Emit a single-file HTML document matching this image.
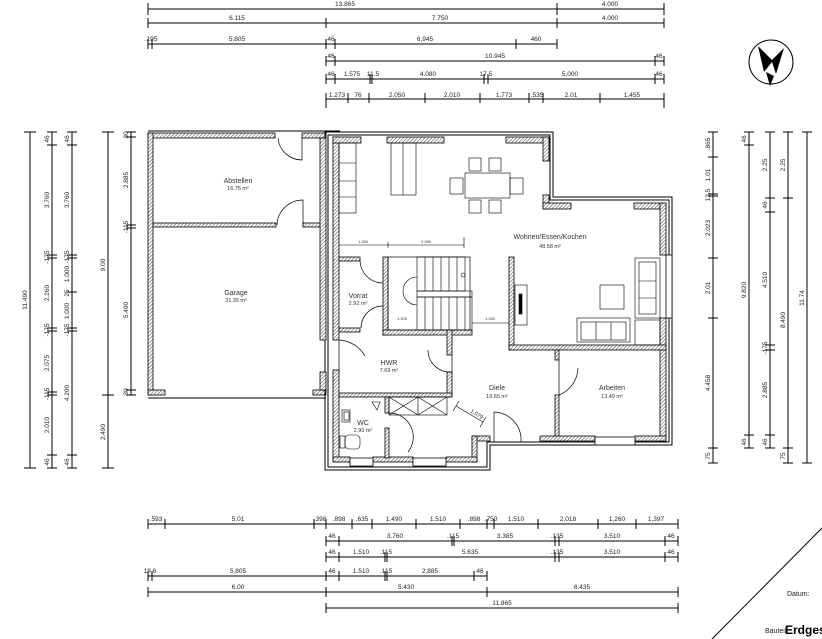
<!DOCTYPE html>
<html><head><meta charset="utf-8"><style>
html,body{margin:0;padding:0;background:#fff;}
svg{display:block;font-family:"Liberation Sans",sans-serif;}
text{font-size:6.5px;fill:#222;}
.d line,.d path{stroke:#000;stroke-width:1;fill:none}
.w{fill:url(#h);stroke:#000;stroke-width:.8}
.o{fill:none;stroke:#000;stroke-width:1}
.f{fill:#fff;stroke:#000;stroke-width:.8}
.a{fill:none;stroke:#000;stroke-width:.7}
.lbl{font-size:7px;fill:#333;text-anchor:middle}
.sm{font-size:5.5px;fill:#333;text-anchor:middle}
</style></head><body>
<svg width="822" height="639" viewBox="0 0 822 639" xmlns="http://www.w3.org/2000/svg">
<defs><pattern id="h" width="2.5" height="2.5" patternUnits="userSpaceOnUse" patternTransform="rotate(45)"><rect width="2.5" height="2.5" fill="#fff"/><line x1="0" y1="0" x2="0" y2="2.5" stroke="#444" stroke-width="1"/></pattern></defs>

<g class="d">
<!-- top dims -->
<line x1="148" y1="9" x2="664" y2="9"/><path d="M148 3v12M557 3v12M664 3v12"/>
<line x1="148" y1="23" x2="664" y2="23"/><path d="M148 18v10M326 18v10M557 18v10M664 18v10"/>
<line x1="148" y1="44" x2="557" y2="44"/><path d="M148 39v10M152 39v10M326 39v10M335 39v10M516 39v10M557 39v10"/>
<line x1="326" y1="61" x2="664" y2="61"/><path d="M326 56v10M335 56v10M655 56v10M664 56v10"/>
<line x1="326" y1="79" x2="664" y2="79"/><path d="M326 74v10M335 74v10M370 74v10M372 74v10M484 74v10M488 74v10M655 74v10M664 74v10"/>
<line x1="326" y1="99" x2="664" y2="99"/><path d="M326 93v15M348 93v10M369 93v10M425 93v10M480 93v10M529 93v10M543 93v10M600 93v10M664 93v15"/>
<!-- bottom dims -->
<line x1="148" y1="524" x2="678" y2="524"/><path d="M148 519v10M165 519v10M314 519v10M326 519v10M352 519v10M372 519v10M416 519v10M460 519v10M487 519v10M494 519v10M538 519v10M598 519v10M636 519v10M678 519v10"/>
<line x1="326" y1="541" x2="678" y2="541"/><path d="M326 536v10M339 536v10M452 536v10M454 536v10M555 536v10M559 536v10M665 536v10M678 536v10"/>
<line x1="326" y1="557" x2="678" y2="557"/><path d="M326 552v10M339 552v10M385 552v10M387 552v10M555 552v10M559 552v10M665 552v10M678 552v10"/>
<line x1="148" y1="576" x2="487" y2="576"/><path d="M148 571v10M152 571v10M326 571v10M339 571v10M385 571v10M387 571v10M474 571v10M487 571v10"/>
<line x1="148" y1="592" x2="678" y2="592"/><path d="M148 587v10M326 587v10M487 587v10M678 587v10"/>
<line x1="326" y1="608" x2="678" y2="608"/><path d="M326 603v10M678 603v10"/>
<!-- left dims -->
<line x1="30" y1="132" x2="30" y2="468"/><path d="M24 132h12M24 468h12"/>
<line x1="52" y1="132" x2="52" y2="468"/><path d="M47 132h10M47 145h10M47 255h10M47 258h10M47 328h10M47 331h10M47 392h10M47 395h10M47 455h10M47 468h10"/>
<line x1="72" y1="132" x2="72" y2="468"/><path d="M67 132h10M67 145h10M67 255h10M67 258h10M67 292h10M67 328h10M67 331h10M67 455h10M67 468h10"/>
<line x1="108" y1="132" x2="108" y2="468"/><path d="M102 132h12M102 395h12M102 468h12"/>
<line x1="131" y1="132" x2="131" y2="395"/><path d="M126 132h10M126 137h10M126 225h10M126 228h10M126 390h10M126 395h10"/>
<!-- right dims -->
<line x1="713" y1="132" x2="713" y2="463"/><path d="M708 132h10M708 157h10M708 194h10M708 196h10M708 258h10M708 318h10M708 448h10M708 463h10"/>
<line x1="749" y1="132" x2="749" y2="448"/><path d="M744 132h10M744 145h10M744 435h10M744 448h10"/>
<line x1="770" y1="132" x2="770" y2="448"/><path d="M765 132h10M765 198h10M765 212h10M765 345h10M765 350h10M765 435h10M765 448h10"/>
<line x1="788" y1="132" x2="788" y2="463"/><path d="M783 132h10M783 198h10M783 448h10M783 463h10"/>
<line x1="807" y1="132" x2="807" y2="463"/><path d="M802 132h10M802 463h10"/>
<!-- title block diagonal -->
<line x1="712" y1="639" x2="822" y2="528"/>
</g>

<g text-anchor="middle">
<text x="345" y="6">13.865</text><text x="610" y="6">4.000</text>
<text x="237" y="20">6.115</text><text x="440" y="20">7.750</text><text x="610" y="20">4.000</text>
<text x="151" y="41">.195</text><text x="237" y="41">5,805</text><text x="331" y="41">46</text><text x="425" y="41">6,945</text><text x="536" y="41">460</text>
<text x="331" y="58">46</text><text x="495" y="58">10.945</text><text x="659" y="58">46</text>
<text x="331" y="76">46</text><text x="352" y="76">1.575</text><text x="373" y="76">11.5</text><text x="428" y="76">4.080</text><text x="486" y="76">17.5</text><text x="570" y="76">5,000</text><text x="659" y="76">46</text>
<text x="337" y="97">1.273</text><text x="358" y="97">76</text><text x="397" y="97">2.050</text><text x="452" y="97">2.010</text><text x="504" y="97">1.773</text><text x="537" y="97">.535</text><text x="571" y="97">2.01</text><text x="632" y="97">1.455</text>
<text x="156" y="521">.593</text><text x="238" y="521">5,01</text><text x="320" y="521">.398</text><text x="339" y="521">.898</text><text x="362" y="521">.635</text><text x="394" y="521">1.490</text><text x="438" y="521">1.510</text><text x="474" y="521">.898</text><text x="491" y="521">.750</text><text x="516" y="521">1.510</text><text x="568" y="521">2,018</text><text x="617" y="521">1,260</text><text x="656" y="521">1,397</text>
<text x="332" y="538">46</text><text x="395" y="538">3.760</text><text x="453" y="538">.115</text><text x="505" y="538">3.385</text><text x="557" y="538">.135</text><text x="612" y="538">3.510</text><text x="671" y="538">46</text>
<text x="332" y="554">46</text><text x="361" y="554">1.510</text><text x="386" y="554">.115</text><text x="470" y="554">5.635</text><text x="557" y="554">.135</text><text x="612" y="554">3.510</text><text x="671" y="554">46</text>
<text x="150" y="573">18.6</text><text x="238" y="573">5,805</text><text x="332" y="573">46</text><text x="361" y="573">1.510</text><text x="386" y="573">.115</text><text x="430" y="573">2,885</text><text x="480" y="573">46</text>
<text x="238" y="589">6,00</text><text x="406" y="589">5.430</text><text x="582" y="589">6.435</text>
<text x="502" y="605">11.865</text>
</g>

<g text-anchor="middle">
<text transform="translate(27,300) rotate(-90)">11.490</text>
<text transform="translate(49,139) rotate(-90)">46</text><text transform="translate(49,200) rotate(-90)">3.760</text><text transform="translate(49,257) rotate(-90)">-175</text><text transform="translate(49,293) rotate(-90)">2.260</text><text transform="translate(49,330) rotate(-90)">-175</text><text transform="translate(49,363) rotate(-90)">2.075</text><text transform="translate(49,394) rotate(-90)">-115</text><text transform="translate(49,425) rotate(-90)">2.010</text><text transform="translate(49,462) rotate(-90)">46</text>
<text transform="translate(69,139) rotate(-90)">46</text><text transform="translate(69,200) rotate(-90)">3.760</text><text transform="translate(69,257) rotate(-90)">-175</text><text transform="translate(69,274) rotate(-90)">1.000</text><text transform="translate(69,293) rotate(-90)">25</text><text transform="translate(69,311) rotate(-90)">1.000</text><text transform="translate(69,330) rotate(-90)">-175</text><text transform="translate(69,393) rotate(-90)">4.200</text><text transform="translate(69,462) rotate(-90)">46</text>
<text transform="translate(105,265) rotate(-90)">9.00</text><text transform="translate(105,432) rotate(-90)">2.490</text>
<text transform="translate(128,135) rotate(-90)">30</text><text transform="translate(128,180) rotate(-90)">2.885</text><text transform="translate(128,227) rotate(-90)">-115</text><text transform="translate(128,310) rotate(-90)">5.400</text><text transform="translate(128,392) rotate(-90)">30</text>
<text transform="translate(710,144) rotate(-90)">.865</text><text transform="translate(710,175) rotate(-90)">1.01</text><text transform="translate(710,195) rotate(-90)">12.5</text><text transform="translate(710,228) rotate(-90)">2.023</text><text transform="translate(710,288) rotate(-90)">2.01</text><text transform="translate(710,383) rotate(-90)">4.458</text><text transform="translate(710,456) rotate(-90)">75</text>
<text transform="translate(746,139) rotate(-90)">46</text><text transform="translate(746,290) rotate(-90)">9.820</text><text transform="translate(746,442) rotate(-90)">46</text>
<text transform="translate(767,165) rotate(-90)">2.25</text><text transform="translate(767,205) rotate(-90)">46</text><text transform="translate(767,280) rotate(-90)">4.510</text><text transform="translate(767,348) rotate(-90)">-175</text><text transform="translate(767,390) rotate(-90)">2.885</text><text transform="translate(767,442) rotate(-90)">46</text>
<text transform="translate(785,165) rotate(-90)">2.25</text><text transform="translate(785,320) rotate(-90)">8.490</text><text transform="translate(785,456) rotate(-90)">75</text>
<text transform="translate(804,298) rotate(-90)">11.74</text>
</g>

<!-- north arrow -->
<circle cx="771" cy="62" r="22" fill="none" stroke="#000" stroke-width="1"/>
<path d="M758 46 L772 60 L784 48 L776 74 L772 62 L764 72 Z" fill="#000"/>
<path d="M766 72 L774 76 L770 86 Z" fill="#000"/>

<text x="787" y="596" style="font-size:7px">Datum:</text>
<text x="765" y="633" style="font-size:7px">Bauteil:</text>
<text x="785" y="634" style="font-size:12px;font-weight:bold;fill:#000">Erdges</text>

<!-- garage -->
<rect class="w" x="148" y="133" width="127" height="5"/>
<rect class="w" x="302" y="133" width="24" height="5"/>
<rect class="w" x="148" y="133" width="5" height="262"/>
<rect class="w" x="153" y="223" width="123" height="4"/>
<rect class="w" x="303" y="223" width="23" height="4"/>
<rect class="w" x="148" y="390" width="17" height="5"/>
<rect class="w" x="313" y="390" width="13" height="5"/>
<line x1="148" y1="131" x2="340" y2="131" stroke="#000"/>
<line x1="148" y1="398" x2="326" y2="398" stroke="#000"/>
<path class="a" d="M302 138 V160 A24 24 0 0 1 278 138"/>
<path class="a" d="M303 227 V200 A26 26 0 0 0 277 225"/>

<!-- house outer double lines -->
<path class="o" d="M325 132 H553 V197 H672 V445 H490 V470 H325 Z"/>
<path class="o" d="M328 135 H550 V200 H669 V442 H487 V467 H328 Z"/>
<!-- exterior walls -->
<rect class="w" x="320" y="138" width="6" height="202"/>
<rect class="w" x="320" y="372" width="6" height="18"/>
<rect class="w" x="333" y="137" width="6" height="203"/>
<rect class="w" x="333" y="370" width="6" height="92"/>
<rect class="w" x="333" y="137" width="28" height="6"/>
<rect class="w" x="387" y="137" width="57" height="6"/>
<rect class="w" x="506" y="137" width="43" height="6"/>
<rect class="w" x="543" y="137" width="6" height="24"/>
<rect class="w" x="543" y="195" width="6" height="14"/>
<rect class="w" x="543" y="203" width="28" height="6"/>
<rect class="w" x="634" y="203" width="32" height="6"/>
<rect class="w" x="660" y="203" width="6" height="52"/>
<rect class="w" x="660" y="318" width="6" height="123"/>
<rect class="w" x="540" y="436" width="55" height="5"/>
<rect class="w" x="635" y="436" width="31" height="5"/>
<rect class="w" x="472" y="436" width="18" height="5"/>
<rect class="w" x="472" y="436" width="5" height="26"/>
<rect class="w" x="333" y="457" width="17" height="5"/>
<rect class="w" x="373" y="457" width="40" height="5"/>
<rect class="w" x="446" y="457" width="31" height="5"/>
<!-- windows -->
<rect class="f" x="666" y="255" width="6" height="63"/>
<rect class="f" x="595" y="437" width="40" height="8"/>
<rect class="f" x="350" y="458" width="23" height="8"/>
<rect class="f" x="413" y="458" width="33" height="8"/>

<!-- interior walls -->
<rect class="w" x="339" y="257" width="21" height="4"/>
<rect class="w" x="339" y="328" width="21" height="4"/>
<rect class="w" x="383" y="257" width="5" height="78"/>
<rect class="w" x="383" y="330" width="89" height="5"/>
<rect class="w" x="447" y="330" width="5" height="25"/>
<rect class="w" x="447" y="372" width="5" height="25"/>
<rect class="w" x="339" y="393" width="113" height="4"/>
<rect class="w" x="385" y="397" width="4" height="16"/>
<rect class="w" x="385" y="428" width="4" height="30"/>
<rect class="w" x="509" y="257" width="5" height="93"/>
<rect class="w" x="509" y="345" width="157" height="5"/>
<rect class="w" x="555" y="350" width="4" height="10"/>
<rect class="w" x="555" y="395" width="4" height="41"/>
<!-- interior lines -->
<line x1="339" y1="245" x2="464" y2="245" stroke="#000" stroke-width=".6"/>
<line x1="388" y1="242" x2="388" y2="248" stroke="#000" stroke-width=".6"/><line x1="464" y1="237" x2="464" y2="248" stroke="#000" stroke-width=".6"/>
<text x="363" y="243" class="sm" style="font-size:4px">1.280</text><text x="426" y="243" class="sm" style="font-size:4px">2.280</text>
<line x1="472" y1="323" x2="509" y2="323" stroke="#000" stroke-width=".6"/>
<text x="402" y="320" class="sm" style="font-size:4px">1.200</text><text x="490" y="320" class="sm" style="font-size:4px">1.280</text>
<rect x="388" y="257" width="82" height="73" fill="none" stroke="#000" stroke-width=".7"/>
<!-- stairs -->
<g stroke="#000" stroke-width=".6" fill="none">
<rect x="417" y="257" width="48" height="34"/><rect x="417" y="291" width="55" height="6"/><rect x="417" y="297" width="55" height="33"/>
<path d="M425 257v34M433 257v34M441 257v34M449 257v34M457 257v34M425 297v33M433 297v33M441 297v33M449 297v33M457 297v33M465 297v33"/>
<path d="M417 277 A14 14 0 0 0 403 291 A14 14 0 0 0 417 305"/>
<circle cx="463" cy="275" r="2"/>
</g>
<!-- doors -->
<path class="a" d="M360 261 A23 23 0 0 0 383 283"/>
<path class="a" d="M383 306 A22 22 0 0 0 361 328"/>
<path class="a" d="M339 372 V340 A32 32 0 0 1 365 356"/>
<path class="a" d="M452 355 V372 A22 22 0 0 1 428 350"/>
<path class="a" d="M389 413 A24 24 0 0 1 408 452"/>
<path class="a" d="M494 442 V412 A28 28 0 0 1 521 442"/>
<path class="a" d="M559 360 V395 A30 30 0 0 0 578 368"/>
<!-- wardrobe -->
<g stroke="#000" stroke-width=".6" fill="none">
<rect x="389" y="397" width="58" height="18"/><line x1="418" y1="397" x2="418" y2="415"/>
<path d="M389 397L418 415M418 397L389 415M418 397L447 415M447 397L418 415"/>
<path d="M456 406 L483 422 M453 411 L459 401 M480 427 L486 417"/>
</g>
<text x="470" y="412" style="font-size:5.5px" transform="rotate(32 470 412)">1.079</text>
<!-- WC fixtures -->
<g stroke="#000" stroke-width=".6" fill="none">
<rect x="342" y="410" width="8" height="12"/><rect x="344" y="412" width="5" height="8"/>
<rect x="340" y="436" width="5" height="12"/><rect x="345" y="435" width="15" height="14" rx="4"/>
<path d="M372 402 L380 402 L377 410 Z" />
</g>
<!-- kitchen/furniture -->
<g stroke="#000" stroke-width=".6" fill="none">
<rect x="339" y="143" width="17" height="70"/><path d="M339 163h17M339 181h17M339 197h17"/>
<rect x="391" y="143" width="25" height="52"/><line x1="403" y1="143" x2="403" y2="195"/>
<rect x="465" y="173" width="45" height="25"/>
<rect x="469" y="158" width="12" height="13"/><rect x="489" y="158" width="12" height="13"/>
<rect x="469" y="200" width="12" height="13"/><rect x="489" y="200" width="12" height="13"/>
<rect x="450" y="178" width="13" height="16"/><rect x="510" y="178" width="13" height="16"/>
<rect x="635" y="258" width="25" height="60"/><rect x="639" y="262" width="17" height="52"/><path d="M639 281h17M639 298h17"/>
<rect x="600" y="285" width="24" height="24"/>
<rect x="577" y="318" width="53" height="24"/><rect x="581" y="322" width="45" height="18"/><path d="M596 322v18M611 322v18"/>
<rect x="635" y="320" width="25" height="25"/>
<rect x="515" y="285" width="12" height="40"/><rect x="519" y="294" width="3" height="20" fill="#000"/>
</g>

<!-- room labels -->
<text x="238" y="183" class="lbl">Abstellen</text><text x="238" y="190" class="sm">16.75 m²</text>
<text x="236" y="295" class="lbl">Garage</text><text x="236" y="302" class="sm">31.35 m²</text>
<text x="358" y="298" class="lbl">Vorrat</text><text x="358" y="305" class="sm">2.92 m²</text>
<text x="550" y="239" class="lbl">Wohnen/Essen/Kochen</text><text x="550" y="248" class="sm">48.58 m²</text>
<text x="389" y="365" class="lbl">HWR</text><text x="389" y="372" class="sm">7.69 m²</text>
<text x="497" y="390" class="lbl">Diele</text><text x="497" y="398" class="sm">19.65 m²</text>
<text x="612" y="390" class="lbl">Arbeiten</text><text x="612" y="398" class="sm">13.49 m²</text>
<text x="363" y="425" class="lbl">WC</text><text x="363" y="432" class="sm">2.90 m²</text>
</svg>
</body></html>
